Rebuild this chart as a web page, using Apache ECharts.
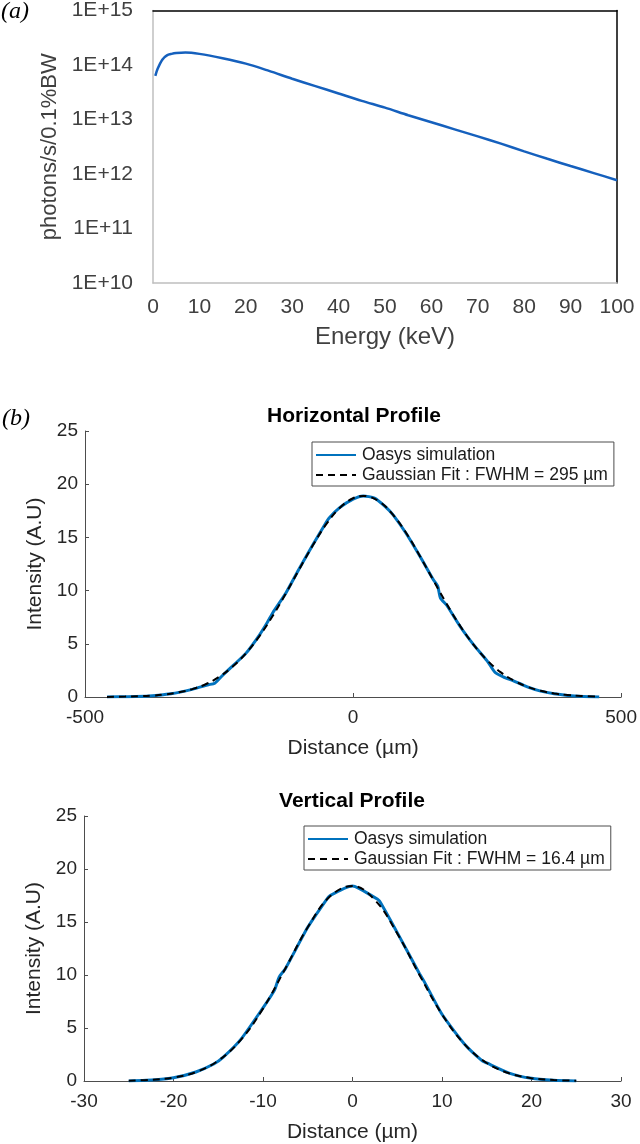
<!DOCTYPE html>
<html>
<head>
    <meta charset="utf-8">
    <script src="https://cdn.jsdelivr.net/npm/echarts@6/dist/echarts.min.js"></script>
</head>
<body style="margin:0;background:#fff">
    <div id="main" style="width: 640px;height:1144px;"></div>
    <script type="text/javascript">
        // (a) spectrum
        var energy = [0.5, 1, 2, 3, 4, 5, 7, 10, 15, 20, 25, 30, 35, 40, 45, 50, 55, 60, 65, 70, 75, 80, 85, 90, 95, 100];
        var flux = [6.3e13, 8.5e13, 1.25e14, 1.5e14, 1.6e14, 1.66e14, 1.7e14, 1.6e14, 1.33e14, 1.06e14, 7.8e13, 5.6e13, 4.1e13,
            3.0e13, 2.2e13, 1.65e13, 1.2e13, 8.9e12, 6.6e12, 4.9e12, 3.6e12, 2.6e12, 1.9e12, 1.4e12, 1.04e12, 7.7e11];

        // (b) horizontal profile
        var hSimX = [-459, -420, -380, -340, -300, -270, -258, -245, -225, -200, -175, -160, -150, -125, -100, -75, -55, -45, -25, 0, 19, 40, 60, 75,
            100, 125, 150, 158, 163, 175, 200, 225, 250, 265, 280, 300, 325, 350, 375, 400, 430, 459];
        var hSimY = [0, 0.03, 0.1, 0.3, 0.72, 1.15, 1.3, 1.95, 2.9, 4.1, 5.8, 7.0, 7.9, 9.8, 12.1, 14.3, 16.0, 16.8, 17.8, 18.6, 18.9, 18.7, 17.9, 17.1,
            15.3, 13.2, 11.0, 10.4, 9.3, 8.6, 6.6, 4.9, 3.4, 2.3, 1.9, 1.5, 0.95, 0.55, 0.3, 0.15, 0.05, 0];
        var hFitX = [-459, -425, -400, -375, -350, -325, -300, -275, -250, -225, -200, -175, -150, -125, -100, -75, -50, -25, 0, 19, 25, 50, 75,
            100, 125, 150, 175, 200, 225, 250, 275, 300, 325, 350, 375, 400, 425, 459];
        var hFitY = [0.01, 0.04, 0.07, 0.13, 0.25, 0.44, 0.74, 1.2, 1.89, 2.84, 4.1, 5.7, 7.61, 9.77, 12.04, 14.26, 16.24, 17.77, 18.68, 18.9, 18.88, 18.33, 17.1,
            15.34, 13.21, 10.94, 8.71, 6.66, 4.89, 3.46, 2.34, 1.53, 0.96, 0.58, 0.33, 0.19, 0.1, 0.03];

        // (b) vertical profile
        var vSimX = [-25, -22, -20, -17.5, -15.5, -14.5, -12.5, -10, -8.7, -8.2, -7.5, -5, -3, -2.5, 0, 2.5, 3, 5, 7.5, 8, 10, 12.5, 14.5, 15, 17.5, 20, 22.5, 25];
        var vSimY = [0, 0.12, 0.3, 0.85, 1.6, 2.2, 3.9, 6.9, 8.6, 9.8, 10.6, 14.5, 17.0, 17.5, 18.4, 17.3, 17.0, 14.0, 10.1, 9.4, 6.3, 3.5, 1.9, 1.7, 0.75, 0.25, 0.07, 0];
        var vFitX = [-25, -22.5, -20, -17.5, -15, -12.5, -10, -7.5, -5, -2.5, 0, 2.5, 5, 7.5, 10, 12.5, 15, 17.5, 20, 22.5, 25];
        var vFitY = [0.03, 0.11, 0.32, 0.84, 1.92, 3.86, 6.83, 10.62, 14.5, 17.42, 18.4, 17.07, 13.92, 9.98, 6.29, 3.48, 1.7, 0.73, 0.27, 0.09, 0.03];

        function zip(xs, ys) {
            return xs.map(function (x, i) { return [x, ys[i]]; });
        }

        var FONT = "'Liberation Sans', Arial, sans-serif";
        var simName = 'Oasys simulation';
        var hFitName = 'Gaussian Fit : FWHM = 295 \u00b5m';
        var vFitName = 'Gaussian Fit : FWHM = 16.4 \u00b5m';

        var myChart = echarts.init(document.getElementById('main'));

        function profileX(idx, min, max, interval) {
            return {
                type: 'value', gridIndex: idx, min: min, max: max, interval: interval,
                name: 'Distance (\u00b5m)', nameLocation: 'middle', nameGap: 41,
                nameTextStyle: { fontFamily: FONT, fontSize: 21, color: '#262626' },
                axisLine: { onZero: false, lineStyle: { color: '#4d4d4d', width: 1 } },
                axisTick: { show: true, inside: true, length: 4, lineStyle: { color: '#4d4d4d' } },
                axisLabel: { fontFamily: FONT, fontSize: 19, color: '#262626', margin: 11 },
                splitLine: { show: false }
            };
        }
        function profileY(idx) {
            return {
                type: 'value', gridIndex: idx, min: 0, max: 25, interval: 5,
                name: 'Intensity (A.U)', nameLocation: 'middle', nameGap: 31,
                nameTextStyle: { fontFamily: FONT, fontSize: 21, color: '#262626' },
                axisLine: { show: true, onZero: false, lineStyle: { color: '#4d4d4d', width: 1 } },
                axisTick: { show: true, inside: true, length: 4, lineStyle: { color: '#4d4d4d' } },
                axisLabel: { fontFamily: FONT, fontSize: 19, color: '#262626', margin: 7 },
                splitLine: { show: false }
            };
        }
        function legendAt(left, top, fitName) {
            return {
                orient: 'vertical', left: left, top: top,
                data: [simName, fitName],
                itemWidth: 40, itemHeight: 14, itemGap: 2,
                padding: [4, 6, 2, 3],
                itemStyle: { opacity: 0 },
                borderColor: '#4d4d4d', borderWidth: 1, backgroundColor: '#fff',
                textStyle: { fontFamily: FONT, fontSize: 17.5, color: '#1a1a1a', padding: [0, 0, 0, 1] }
            };
        }

        var option = {
            animation: false,
            title: [
                { text: 'Horizontal Profile', left: 354, top: 406, textAlign: 'center', padding: 0,
                  textStyle: { fontFamily: FONT, fontSize: 21, fontWeight: 'bold', color: '#000' } },
                { text: 'Vertical Profile', left: 352, top: 791, textAlign: 'center', padding: 0,
                  textStyle: { fontFamily: FONT, fontSize: 21, fontWeight: 'bold', color: '#000' } }
            ],
            graphic: [
                { type: 'text', left: 1, top: 0, style: { text: '(a)', font: "italic 24px 'Liberation Serif', serif", fill: '#000' } },
                { type: 'text', left: 2, top: 407, style: { text: '(b)', font: "italic 24px 'Liberation Serif', serif", fill: '#000' } }
            ],
            legend: [legendAt(312, 442, hFitName), legendAt(304, 826, vFitName)],
            grid: [
                { left: 153, top: 8, width: 464, height: 275 },
                { left: 85, top: 431, width: 538, height: 266 },
                { left: 84, top: 816, width: 537, height: 267 }
            ],
            xAxis: [
                {
                    type: 'value', gridIndex: 0, min: 0, max: 100, interval: 10,
                    name: 'Energy (keV)', nameLocation: 'middle', nameGap: 42,
                    nameTextStyle: { fontFamily: FONT, fontSize: 24, color: '#404040' },
                    axisLine: { onZero: false, lineStyle: { color: '#bfbfbf', width: 1.5 } },
                    axisTick: { show: false },
                    axisLabel: { fontFamily: FONT, fontSize: 21, color: '#404040', margin: 14 },
                    splitLine: { show: false }
                },
                {
                    type: 'value', gridIndex: 0, position: 'top', min: 0, max: 100,
                    axisLine: { onZero: false, lineStyle: { color: '#000', width: 1.5 } },
                    axisTick: { show: false }, axisLabel: { show: false }, splitLine: { show: false }
                },
                profileX(1, -500, 500, 500),
                profileX(2, -30, 30, 10)
            ],
            yAxis: [
                {
                    type: 'log', gridIndex: 0, logBase: 10, min: 1e10, max: 1e15,
                    name: 'photons/s/0.1%BW', nameLocation: 'middle', nameGap: 69,
                    nameTextStyle: { fontFamily: FONT, fontSize: 22, color: '#404040' },
                    axisLine: { show: true, onZero: false, lineStyle: { color: '#bfbfbf', width: 1.5 } },
                    axisTick: { show: false },
                    axisLabel: {
                        fontFamily: FONT, fontSize: 21, color: '#404040', margin: 20,
                        formatter: function (v) { return '1E+' + Math.round(Math.log10(v)); }
                    },
                    splitLine: { show: false }
                },
                {
                    type: 'value', gridIndex: 0, position: 'right', min: 0, max: 1,
                    axisLine: { show: true, onZero: false, lineStyle: { color: '#000', width: 1.5 } },
                    axisTick: { show: false }, axisLabel: { show: false }, splitLine: { show: false }
                },
                profileY(1),
                profileY(2)
            ],
            series: [
                {
                    type: 'line', name: 'spectrum', xAxisIndex: 0, yAxisIndex: 0,
                    data: zip(energy, flux), showSymbol: false, symbol: 'none', smooth: 0.3,
                    lineStyle: { color: '#1560bd', width: 2.5 }
                },
                {
                    type: 'line', name: simName, xAxisIndex: 2, yAxisIndex: 2,
                    data: zip(hSimX, hSimY), symbol: 'none', smooth: 0.2,
                    itemStyle: { color: '#0072bd' }, lineStyle: { color: '#0072bd', width: 3 }
                },
                {
                    type: 'line', name: hFitName, xAxisIndex: 2, yAxisIndex: 2,
                    data: zip(hFitX, hFitY), symbol: 'none', smooth: 0.4,
                    itemStyle: { color: '#000' }, lineStyle: { color: '#000', width: 2, type: [7, 5] }
                },
                {
                    type: 'line', name: simName, xAxisIndex: 3, yAxisIndex: 3,
                    data: zip(vSimX, vSimY), symbol: 'none', smooth: 0.2,
                    itemStyle: { color: '#0072bd' }, lineStyle: { color: '#0072bd', width: 3 }
                },
                {
                    type: 'line', name: vFitName, xAxisIndex: 3, yAxisIndex: 3,
                    data: zip(vFitX, vFitY), symbol: 'none', smooth: 0.4,
                    itemStyle: { color: '#000' }, lineStyle: { color: '#000', width: 2, type: [7, 5] }
                }
            ]
        };

        myChart.setOption(option);
    </script>
</body>
</html>
